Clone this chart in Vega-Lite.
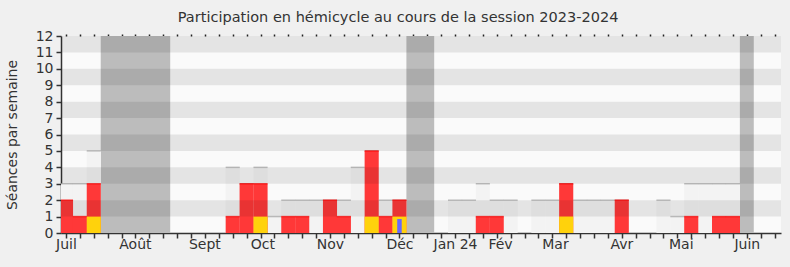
{
  "$schema": "https://vega.github.io/schema/vega-lite/v6.json",
  "width": 720,
  "height": 197,
  "autosize": {"type": "none"},
  "padding": {"left": 61, "top": 36, "right": 9, "bottom": 34},
  "background": "#f0f0f0",
  "config": {
    "view": {"stroke": null, "fill": "#fafafa"},
    "font": "DejaVu Sans",
    "axis": {"labelFont": "DejaVu Sans", "labelFontSize": 14, "labelColor": "#333", "titleFont": "DejaVu Sans", "titleFontSize": 14, "titleFontWeight": "normal", "titleColor": "#333", "grid": false, "zindex": 1}
  },
  "title": {"text": "Participation en hémicycle au cours de la session 2023-2024", "font": "DejaVu Sans", "fontSize": 14.5, "fontWeight": "normal", "color": "#333", "anchor": "middle", "frame": "bounds", "offset": 4, "dx": 5},
  "datasets": {
    "weeks": [
      {"w": 0, "total": 3, "red": 2, "yellow": 0, "blue": 0},
      {"w": 1, "total": 3, "red": 1, "yellow": 0, "blue": 0},
      {"w": 2, "total": 5, "red": 3, "yellow": 1, "blue": 0},
      {"w": 12, "total": 4, "red": 1, "yellow": 0, "blue": 0},
      {"w": 13, "total": 3, "red": 3, "yellow": 0, "blue": 0},
      {"w": 14, "total": 4, "red": 3, "yellow": 1, "blue": 0},
      {"w": 15, "total": 1, "red": 0, "yellow": 0, "blue": 0},
      {"w": 16, "total": 2, "red": 1, "yellow": 0, "blue": 0},
      {"w": 17, "total": 2, "red": 1, "yellow": 0, "blue": 0},
      {"w": 18, "total": 2, "red": 0, "yellow": 0, "blue": 0},
      {"w": 19, "total": 2, "red": 2, "yellow": 0, "blue": 0},
      {"w": 20, "total": 2, "red": 1, "yellow": 0, "blue": 0},
      {"w": 21, "total": 4, "red": 0, "yellow": 0, "blue": 0},
      {"w": 22, "total": 5, "red": 5, "yellow": 1, "blue": 0},
      {"w": 23, "total": 2, "red": 1, "yellow": 0, "blue": 0},
      {"w": 24, "total": 2, "red": 2, "yellow": 1, "blue": 0.85},
      {"w": 28, "total": 2, "red": 0, "yellow": 0, "blue": 0},
      {"w": 29, "total": 2, "red": 0, "yellow": 0, "blue": 0},
      {"w": 30, "total": 3, "red": 1, "yellow": 0, "blue": 0},
      {"w": 31, "total": 2, "red": 1, "yellow": 0, "blue": 0},
      {"w": 32, "total": 2, "red": 0, "yellow": 0, "blue": 0},
      {"w": 34, "total": 2, "red": 0, "yellow": 0, "blue": 0},
      {"w": 35, "total": 2, "red": 0, "yellow": 0, "blue": 0},
      {"w": 36, "total": 3, "red": 3, "yellow": 1, "blue": 0},
      {"w": 37, "total": 2, "red": 0, "yellow": 0, "blue": 0},
      {"w": 38, "total": 2, "red": 0, "yellow": 0, "blue": 0},
      {"w": 39, "total": 2, "red": 0, "yellow": 0, "blue": 0},
      {"w": 40, "total": 2, "red": 2, "yellow": 0, "blue": 0},
      {"w": 43, "total": 2, "red": 0, "yellow": 0, "blue": 0},
      {"w": 44, "total": 1, "red": 0, "yellow": 0, "blue": 0},
      {"w": 45, "total": 3, "red": 1, "yellow": 0, "blue": 0},
      {"w": 46, "total": 3, "red": 0, "yellow": 0, "blue": 0},
      {"w": 47, "total": 3, "red": 1, "yellow": 0, "blue": 0},
      {"w": 48, "total": 3, "red": 1, "yellow": 0, "blue": 0}
    ],
    "bands": [
      {"start": 2.5, "end": 7.5},
      {"start": 24.5, "end": 26.5},
      {"start": 48.5, "end": 49.5}
    ],
    "stripes": [
      {"lo": 1, "hi": 2}, {"lo": 3, "hi": 4}, {"lo": 5, "hi": 6},
      {"lo": 7, "hi": 8}, {"lo": 9, "hi": 10}, {"lo": 11, "hi": 12}
    ]
  },
  "resolve": {"axis": {"x": "independent", "y": "independent"}},
  "layer": [
    {
      "data": {"name": "bands"},
      "mark": {"type": "rect", "color": "#bcbcbc"},
      "encoding": {
        "x": {"field": "start", "type": "quantitative", "scale": {"domain": [0, 51.1], "nice": false, "zero": false},
          "axis": {"orient": "bottom", "title": null, "values": [0,1,2,3,4,5,6,7,8,9,10,11,12,13,14,15,16,17,18,19,20,21,22,23,24,25,26,27,28,29,30,31,32,33,34,35,36,37,38,39,40,41,42,43,44,45,46,47,48,49,50,51],
            "labels": false, "ticks": true, "tickSize": 5, "tickWidth": 1.5, "tickColor": "#333", "domain": true, "domainColor": "#333", "domainWidth": 1.5}},
        "x2": {"field": "end"}
      }
    },
    {
      "data": {"name": "weeks"},
      "transform": [{"filter": "datum.total > 0"}],
      "mark": {"type": "bar", "color": "#f3f3f3", "width": 14.1, "orient": "vertical", "clip": true},
      "encoding": {
        "x": {"field": "w", "type": "quantitative", "scale": {"domain": [0, 51.1], "nice": false, "zero": false},
          "axis": {"orient": "bottom", "title": null, "values": [0, 4.96, 9.96, 14.13, 19, 24, 28, 31.24, 35.19, 39.97, 44.25, 49],
            "labelExpr": "['Juil','Août','Sept','Oct','Nov','Déc','Jan 24','Fév','Mar','Avr','Mai','Juin'][indexof([0, 4.96, 9.96, 14.13, 19, 24, 28, 31.24, 35.19, 39.97, 44.25, 49], datum.value)]",
            "ticks": false, "domain": false, "labelFlush": false, "labelOverlap": false, "labelPadding": 4}},
        "y": {"field": "total", "type": "quantitative", "stack": null, "scale": {"domain": [0, 12], "nice": false},
          "axis": {"orient": "left", "title": "Séances par semaine", "values": [0,1,2,3,4,5,6,7,8,9,10,11,12], "tickSize": 5, "tickWidth": 1.5, "tickColor": "#333", "domain": true, "domainColor": "#333", "domainWidth": 1.5, "labelPadding": 3, "titlePadding": 16}}
      }
    },
    {
      "data": {"name": "weeks"},
      "transform": [{"filter": "datum.total > 0"}],
      "mark": {"type": "tick", "orient": "horizontal", "color": "#a9a9a9", "size": 14.1, "thickness": 1.5, "clip": true},
      "encoding": {
        "x": {"field": "w", "type": "quantitative", "scale": {"domain": [0, 51.1], "nice": false, "zero": false}, "axis": null},
        "y": {"field": "total", "type": "quantitative", "stack": null, "axis": null}
      }
    },
    {
      "data": {"name": "weeks"},
      "transform": [{"filter": "datum.red > 0"}],
      "mark": {"type": "bar", "color": "#ff3838", "width": 14.1, "orient": "vertical", "clip": true},
      "encoding": {
        "x": {"field": "w", "type": "quantitative", "scale": {"domain": [0, 51.1], "nice": false, "zero": false},
          "axis": {"orient": "top", "title": null, "values": [0,1,2,3,4,5,6,7,8,9,10,11,12,13,14,15,16,17,18,19,20,21,22,23,24,25,26,27,28,29,30,31,32,33,34,35,36,37,38,39,40,41,42,43,44,45,46,47,48,49,50,51],
            "labels": false, "domain": false, "ticks": true, "tickSize": 2, "tickWidth": 1.5, "tickColor": "#222"}},
        "y": {"field": "red", "type": "quantitative", "stack": null, "axis": null}
      }
    },
    {
      "data": {"name": "weeks"},
      "transform": [{"filter": "datum.red > 0"}],
      "mark": {"type": "tick", "orient": "horizontal", "color": "#ff0000", "size": 14.1, "thickness": 1.5, "clip": true},
      "encoding": {
        "x": {"field": "w", "type": "quantitative", "scale": {"domain": [0, 51.1], "nice": false, "zero": false}, "axis": null},
        "y": {"field": "red", "type": "quantitative", "stack": null, "axis": null}
      }
    },
    {
      "data": {"name": "weeks"},
      "transform": [{"filter": "datum.yellow > 0"}],
      "mark": {"type": "bar", "color": "#ffd20c", "width": 14.1, "orient": "vertical", "clip": true},
      "encoding": {
        "x": {"field": "w", "type": "quantitative", "scale": {"domain": [0, 51.1], "nice": false, "zero": false}, "axis": null},
        "y": {"field": "yellow", "type": "quantitative", "stack": null, "axis": null}
      }
    },
    {
      "data": {"name": "weeks"},
      "transform": [{"filter": "datum.blue > 0"}],
      "mark": {"type": "bar", "color": "#6868ff", "width": 4.5, "orient": "vertical", "clip": true},
      "encoding": {
        "x": {"field": "w", "type": "quantitative", "scale": {"domain": [0, 51.1], "nice": false, "zero": false}, "axis": null},
        "y": {"field": "blue", "type": "quantitative", "stack": null, "axis": null}
      }
    },
    {
      "data": {"name": "stripes"},
      "mark": {"type": "rect", "color": "#000000", "opacity": 0.085},
      "encoding": {
        "y": {"field": "lo", "type": "quantitative", "axis": null},
        "y2": {"field": "hi"}
      }
    }
  ]
}
